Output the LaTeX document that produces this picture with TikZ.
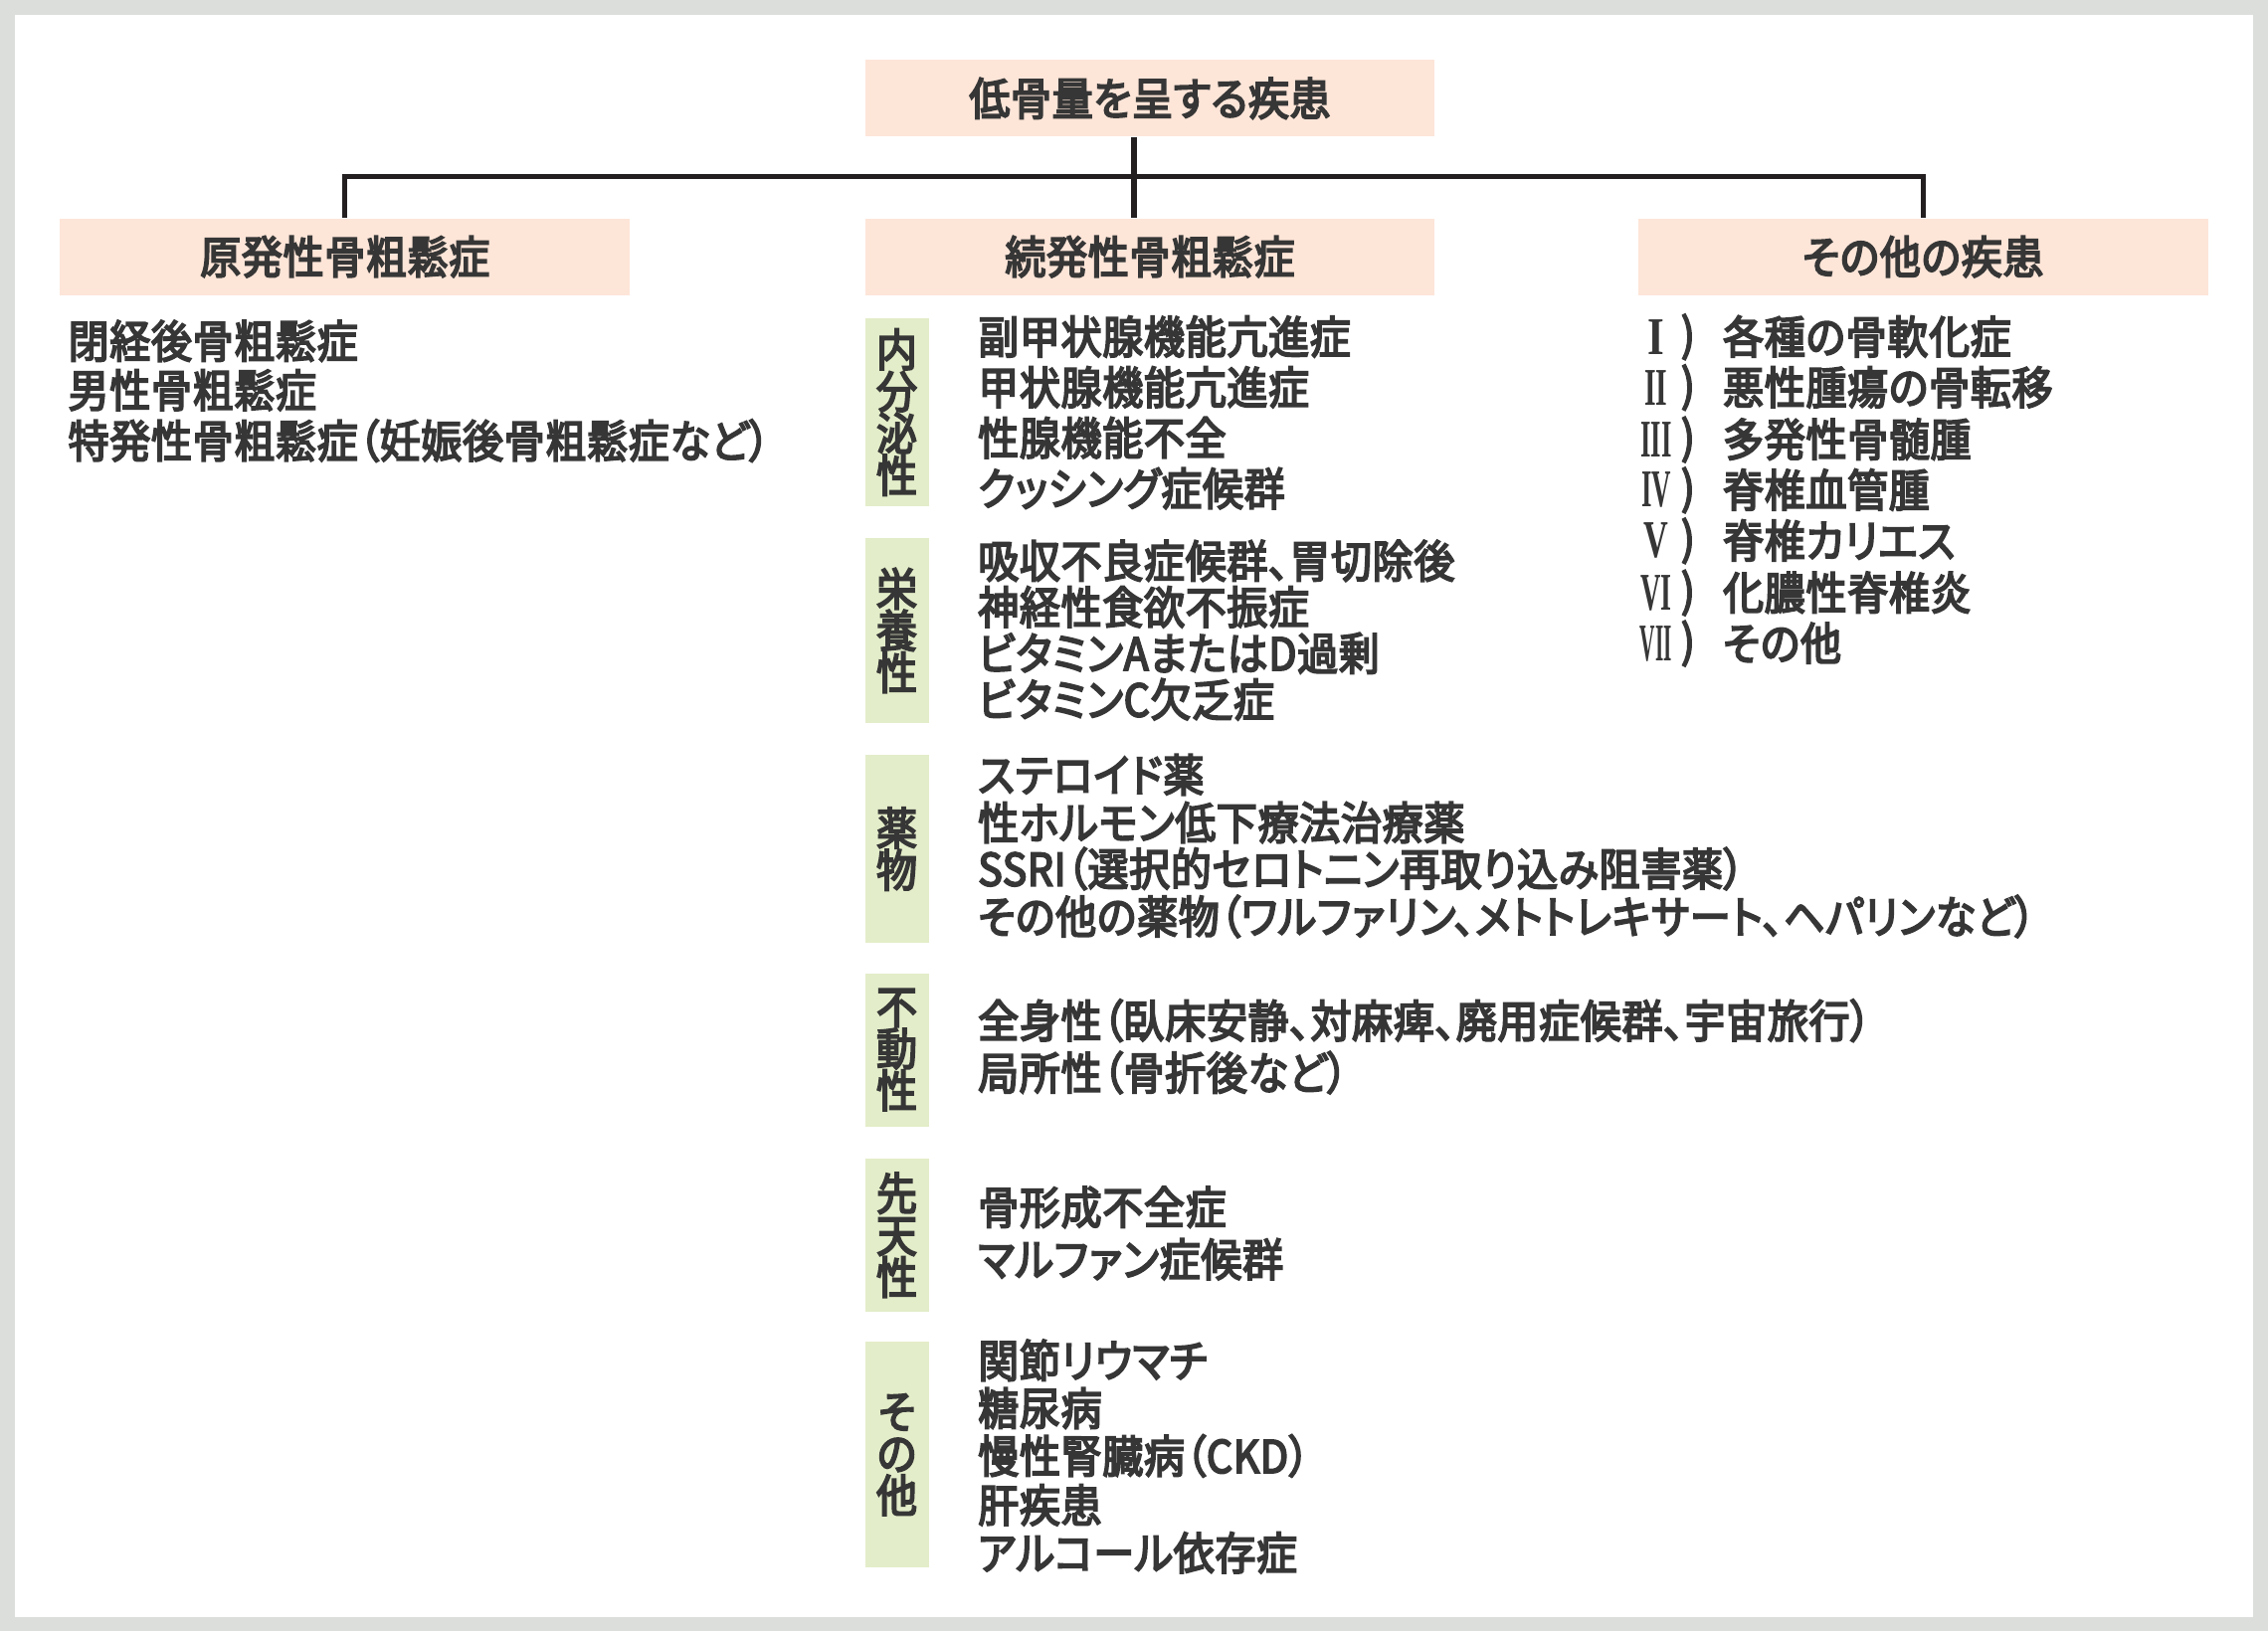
\documentclass[tikz,border=0pt]{standalone}
\usepackage{graphicx}
\usepackage{fontspec}
\setmainfont{Noto Sans CJK JP}[FakeStretch=0.91,LetterSpace=1.5,FakeBold=4,RawFeature={+palt}]
\newfontfamily\romanf{Liberation Serif}
\definecolor{bordergray}{HTML}{DCDEDC}
\definecolor{peach}{HTML}{FDE5D8}
\definecolor{catgreen}{HTML}{E3EDC9}
\definecolor{txt}{HTML}{363636}
\definecolor{linec}{HTML}{231F20}
\newcommand\fsz{\fontsize{31}{35}\selectfont}
\newcommand\romn[2]{\resizebox{#2pt}{24pt}{\romanf\bfseries #1}}
\tikzset{
  hdr/.style={fill=peach, minimum width=394pt, minimum height=53pt, inner sep=0pt, text=txt, font=\fsz},
  catbox/.style={fill=catgreen, minimum width=44pt, inner sep=0pt, text=txt, align=center, font=\fontsize{31}{29}\selectfont},
  item/.style={anchor=west, inner sep=0pt, text=txt, font=\fsz, text height=26pt, text depth=3pt},
  numl/.style={anchor=center, inner sep=0pt, text=txt},
  conn/.style={draw=linec, line width=3.5pt, line join=miter}
}
\begin{document}
\begin{tikzpicture}[x=1pt,y=-1pt]
\fill[bordergray] (0,0) rectangle (1568,1128);
\fill[white] (10,10) rectangle (1558,1118);
\useasboundingbox (0,0) rectangle (1568,1128);

% headers
\node[hdr] (top) at (795,68) {低骨量を呈する疾患};
\node[hdr] (left) at (238.5,177.5) {原発性骨粗鬆症};
\node[hdr] (mid) at (795,177.5) {続発性骨粗鬆症};
\node[hdr] (right) at (1329.5,177.5) {その他の疾患};

% connectors
\coordinate (bus) at (784,122);
\draw[conn] ([xshift=-11pt]top.south) -- (bus);
\draw[conn] (left.north) |- (bus) -| (right.north);
\draw[conn] (bus) -- ([xshift=-11pt]mid.north);

% left column
\node[item] (l1) at (47,236) {閉経後骨粗鬆症};
\node[item] (l2) at (47,270) {男性骨粗鬆症};
\node[item] (l3) at (47,305) {特発性骨粗鬆症（妊娠後骨粗鬆症など）};

% middle categories
\node[catbox, minimum height=130pt] (c1) at (620,285) {内\\分\\泌\\性};
\node[catbox, minimum height=128pt] (c2) at (620,436) {栄\\養\\性};
\node[catbox, minimum height=130pt] (c3) at (620,587) {薬\\物};
\node[catbox, minimum height=106pt] (c4) at (620,726) {不\\動\\性};
\node[catbox, minimum height=106pt] (c5) at (620,854) {先\\天\\性};
\node[catbox, minimum height=156pt] (c6) at (620,1006) {そ\\の\\他};

% middle items
\node[item] (m1) at (676,233) {副甲状腺機能亢進症};
\node[item] (m2) at (676,268) {甲状腺機能亢進症};
\node[item] (m3) at (676,303) {性腺機能不全};
\node[item] (m4) at (676,338) {クッシング症候群};
\node[item] (m5) at (676,388) {吸収不良症候群、胃切除後};
\node[item] (m6) at (676,420) {神経性食欲不振症};
\node[item] (m7) at (676,452) {ビタミンAまたはD過剰};
\node[item] (m8) at (676,484) {ビタミンC欠乏症};
\node[item] (m9) at (676,536) {ステロイド薬};
\node[item] (m10) at (676,569) {性ホルモン低下療法治療薬};
\node[item] (m11) at (676,601) {SSRI（選択的セロトニン再取り込み阻害薬）};
\node[item] (m12) at (676,634) {その他の薬物（ワルファリン、メトトレキサート、ヘパリンなど）};
\node[item] (m13) at (676,706) {全身性（臥床安静、対麻痺、廃用症候群、宇宙旅行）};
\node[item] (m14) at (676,742) {局所性（骨折後など）};
\node[item] (m15) at (676,835) {骨形成不全症};
\node[item] (m16) at (676,871) {マルファン症候群};
\node[item] (m17) at (676,941) {関節リウマチ};
\node[item] (m18) at (676,974) {糖尿病};
\node[item] (m19) at (676,1007) {慢性腎臓病（CKD）};
\node[item] (m20) at (676,1041) {肝疾患};
\node[item] (m21) at (676,1074) {アルコール依存症};

% right column
\node[numl] (n1) at (1145,233) {\romn{I}{11.5}};
\node[numl] (n2) at (1145,268) {\romn{II}{16}};
\node[numl] (n3) at (1145,304) {\romn{III}{21.5}};
\node[numl] (n4) at (1145,339) {\romn{IV}{20.5}};
\node[numl] (n5) at (1145,374) {\romn{V}{17}};
\node[numl] (n6) at (1145,410) {\romn{VI}{21.5}};
\node[numl] (n7) at (1145,445) {\romn{VII}{22}};
\foreach \yy/\nm in {233/p1,268/p2,304/p3,339/p4,374/p5,410/p6,445/p7}
  \node[numl, font=\fsz] (\nm) at (1167,\yy) {)};
\node[item] (r1) at (1191,233) {各種の骨軟化症};
\node[item] (r2) at (1191,268) {悪性腫瘍の骨転移};
\node[item] (r3) at (1191,304) {多発性骨髄腫};
\node[item] (r4) at (1191,339) {脊椎血管腫};
\node[item] (r5) at (1191,374) {脊椎カリエス};
\node[item] (r6) at (1191,410) {化膿性脊椎炎};
\node[item] (r7) at (1191,445) {その他};
\end{tikzpicture}
\end{document}
